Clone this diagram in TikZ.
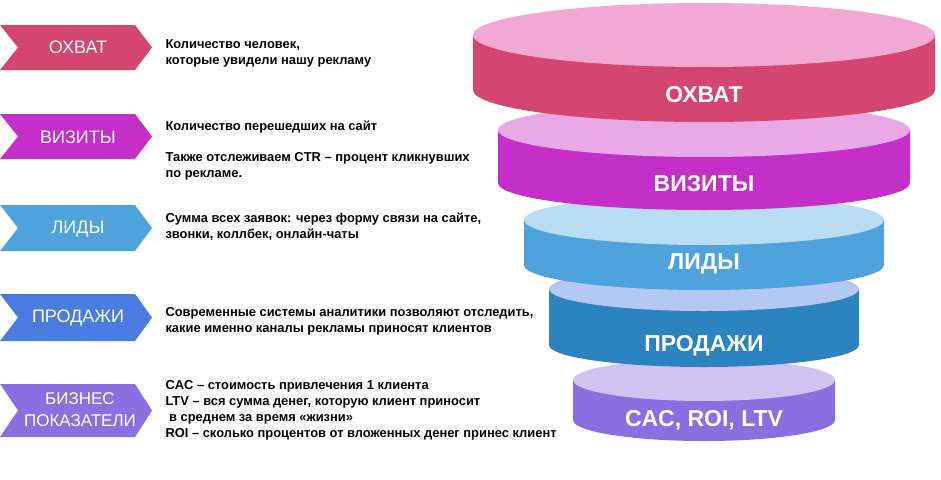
\documentclass[tikz,border=0pt]{standalone}
\usepackage{fontspec}
\setmainfont{Liberation Sans}
\begin{document}
\begin{tikzpicture}[x=1pt,y=-1pt,
  lbl/.style={text=white,font=\fontsize{18}{20}\selectfont,align=center},
  desc/.style={anchor=west,align=left,font=\bfseries\fontsize{12.9}{16}\selectfont},
  cyltxt/.style={text=white,font=\bfseries\fontsize{23}{25}\selectfont}]
\useasboundingbox (0,0) rectangle (941,479);
\definecolor{cA}{HTML}{D4456F}\definecolor{tA}{HTML}{F2A8D2}
\definecolor{cB}{HTML}{C42FC8}\definecolor{tB}{HTML}{E8A8E8}
\definecolor{cC}{HTML}{4EA3DC}\definecolor{tC}{HTML}{B8DCF2}
\definecolor{cD}{HTML}{2B84C0}\definecolor{tD}{HTML}{B4C8F4}
\definecolor{cE}{HTML}{8A6FE0}\definecolor{tE}{HTML}{CFC3F2}
\definecolor{aD}{HTML}{4A7BE0}
\foreach \rx/\ty/\by/\ry/\cs/\ct [count=\i] in {131/380/420/21/cE/tE, 155/289/345/22/cD/tD, 180/220/265/25/cC/tC, 206/130/183/27/cB/tB, 231/35/90/32/cA/tA}{
  \fill[\cs] (704-\rx,\ty) -- (704-\rx,\by) arc[start angle=180,end angle=0,x radius=\rx,y radius=\ry] -- (704+\rx,\ty) -- cycle;
  \fill[\ct] (704,\ty) ellipse[x radius=\rx,y radius=\ry];
}
\node[cyltxt] (c1) at (704,95) {ОХВАТ};
\node[cyltxt] (c2) at (704,184) {ВИЗИТЫ};
\node[cyltxt] (c3) at (704,264) {ЛИДЫ};
\node[cyltxt] (c4) at (704,346) {ПРОДАЖИ};
\node[cyltxt] (c5) at (704,420) {CAC, ROI, LTV};
\foreach \t/\b/\c in {25/70/cA, 114/159/cB, 205/251/cC, 294/341/aD, 384/437/cE}{
  \fill[\c] (0,\t) -- (135,\t) -- (152,{(\t+\b)/2}) -- (135,\b) -- (0,\b) -- (18,{(\t+\b)/2}) -- cycle;
}
\node[lbl] (l1) at (78,47) {ОХВАТ};
\node[lbl] (l2) at (78,137) {ВИЗИТЫ};
\node[lbl] (l3) at (78,229) {ЛИДЫ};
\node[lbl] (l4) at (78,318) {ПРОДАЖИ};
\node[lbl,font=\fontsize{17}{22}\selectfont] (l5) at (80,410) {БИЗНЕС\\ПОКАЗАТЕЛИ};
\node[desc] (d1) at (162,53) {Количество человек,\\которые увидели нашу рекламу};
\node[desc] (d2) at (162,151) {Количество перешедших на сайт\\[15pt]Также отслеживаем CTR – процент кликнувших\\по рекламе.};
\node[desc] (d3) at (162,227) {Сумма всех заявок: через форму связи на сайте,\\ звонки, коллбек, онлайн-чаты};
\node[desc] (d4) at (162,321) {Современные системы аналитики позволяют отследить,\\какие именно каналы рекламы приносят клиентов};
\node[desc] (d5) at (162,410) {CAC – стоимость привлечения 1 клиента\\LTV – вся сумма денег, которую клиент приносит\\\ в среднем за время «жизни»\\ROI – сколько процентов от вложенных денег принес клиент};
\end{tikzpicture}
\end{document}
